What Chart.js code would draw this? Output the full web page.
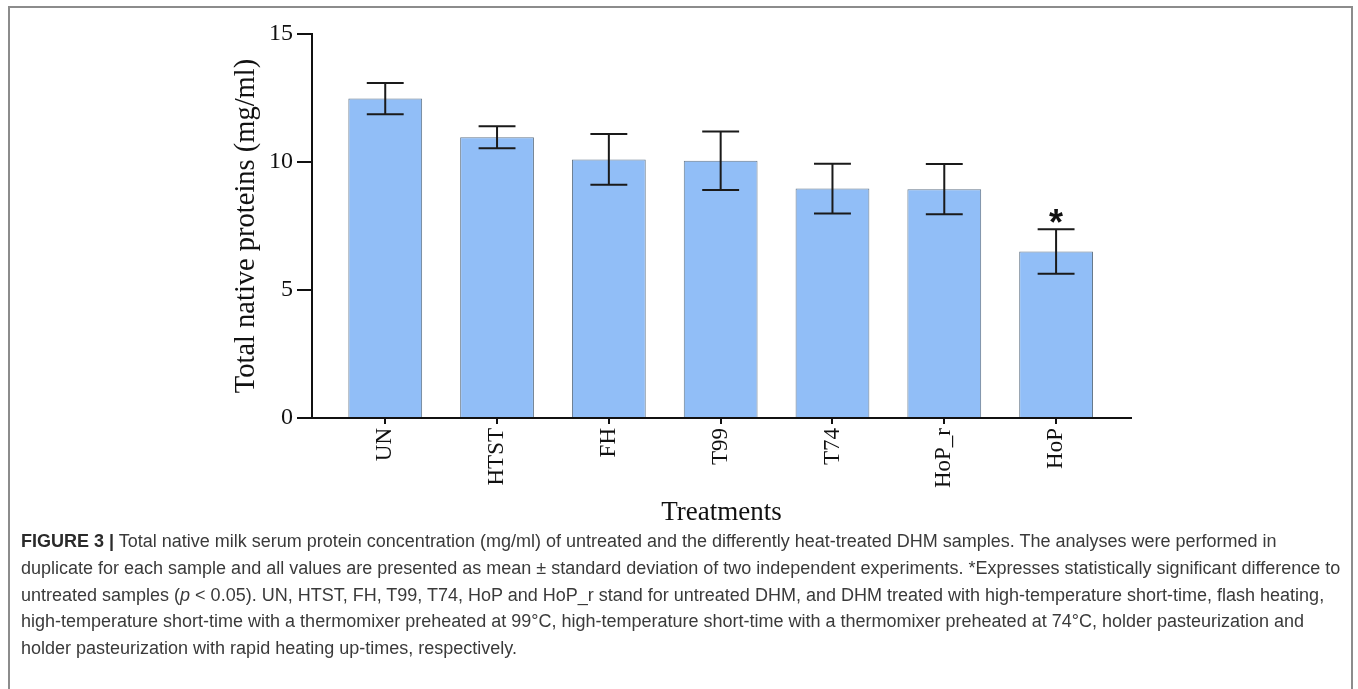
<!DOCTYPE html>
<html>
<head>
<meta charset="utf-8">
<script src="https://cdn.jsdelivr.net/npm/chart.js@4.4.1/dist/chart.umd.min.js"></script>
<style>
html,body{margin:0;padding:0;background:#fff;}
body{width:1358px;height:689px;position:relative;overflow:hidden;}
#frame{position:absolute;left:8px;top:6px;width:1345px;height:720px;border:2px solid #8c8c8c;box-sizing:border-box;}
#wrap{position:absolute;left:0;top:0;width:1358px;height:540px;}
#cap{position:absolute;left:21px;top:528px;font-family:"Liberation Sans",Arial,sans-serif;font-size:18px;line-height:26.8px;color:#3a3a3a;white-space:nowrap;}
#cap b{color:#2a2a2a;}
</style>
</head>
<body>
<div id="frame"></div>
<div id="wrap"><canvas id="c"></canvas></div>
<div id="cap">
<b>FIGURE 3 |</b> Total native milk serum protein concentration (mg/ml) of untreated and the differently heat-treated DHM samples. The analyses were performed in<br>
duplicate for each sample and all values are presented as mean ± standard deviation of two independent experiments. *Expresses statistically significant difference to<br>
untreated samples (<i>p</i> &lt; 0.05). UN, HTST, FH, T99, T74, HoP and HoP_r stand for untreated DHM, and DHM treated with high-temperature short-time, flash heating,<br>
high-temperature short-time with a thermomixer preheated at 99°C, high-temperature short-time with a thermomixer preheated at 74°C, holder pasteurization and<br>
holder pasteurization with rapid heating up-times, respectively.
</div>
<script>

// data
const treatments=["UN","HTST","FH","T99","T74","HoP_r","HoP"]
const means=[12.48,10.97,10.1,10.05,8.96,8.94,6.5]
const sds=[0.61,0.43,0.99,1.14,0.97,0.98,0.87]
const signif=["","","","","","","*"]
const yTicks=[0,5,10,15]

const serif='"Liberation Serif","Times New Roman",serif'

let points=treatments.map((t,i)=>({x:i,y:means[i]}))

/* ===== error bars + asterisk ===== */

const errorBars={
id:"errorBars",
afterDatasetsDraw(chart){
let ctx=chart.ctx
let xs=chart.scales.x
let ys=chart.scales.y
let meta=chart.getDatasetMeta(0)
ctx.save()
ctx.strokeStyle="#1a1a1a"
ctx.lineWidth=2
means.forEach((m,i)=>{
let x=xs.getPixelForValue(i)
let hi=ys.getPixelForValue(m+sds[i])
let lo=ys.getPixelForValue(m-sds[i])
let half=meta.data[i].width/4
ctx.beginPath()
ctx.moveTo(x,hi);ctx.lineTo(x,lo)
ctx.moveTo(x-half,hi);ctx.lineTo(x+half,hi)
ctx.moveTo(x-half,lo);ctx.lineTo(x+half,lo)
ctx.stroke()
if(signif[i]){
ctx.fillStyle="#111"
ctx.font='bold 36px "Liberation Sans",Arial,sans-serif'
ctx.textAlign="center"
ctx.textBaseline="alphabetic"
ctx.fillText(signif[i],x,hi+6)
}
})
ctx.restore()
}
}

new Chart(document.getElementById("c"),{
type:"bar",
data:{
datasets:[{
data:points,
backgroundColor:"#91bef7",
borderColor:"#66788a",
borderWidth:1,
borderSkipped:"bottom",
barPercentage:0.66,
categoryPercentage:1
}]
},
options:{
responsive:true,
maintainAspectRatio:false,
animation:false,
layout:{padding:{left:229,right:227,top:34,bottom:11}},
plugins:{legend:{display:false},tooltip:{enabled:false}},
scales:{
x:{
type:"linear",
offset:false,
min:-0.655,
max:6.67,
afterBuildTicks(s){s.ticks=treatments.map((t,i)=>({value:i}))},
afterFit(s){s.height=111},
grid:{display:true,offset:false,drawOnChartArea:false,tickLength:6,color:"#111",lineWidth:2},
border:{color:"#111",width:2},
ticks:{
autoSkip:false,
minRotation:90,
maxRotation:90,
padding:4,
color:"#111",
font:{family:serif,size:23},
callback:v=>treatments[v]
},
title:{display:true,text:"Treatments",color:"#111",padding:0,font:{family:serif,size:27}}
},
y:{
min:0,
max:15,
afterBuildTicks(s){s.ticks=yTicks.map(v=>({value:v}))},
afterFit(s){s.width=83},
grid:{display:true,drawOnChartArea:false,tickLength:15,color:"#111",lineWidth:2},
border:{color:"#111",width:2},
ticks:{padding:4,color:"#111",font:{family:serif,size:24}},
title:{display:true,text:"Total native proteins (mg/ml)",color:"#111",padding:0,font:{family:serif,size:28.5}}
}
}
},
plugins:[errorBars]
})

</script>
</body>
</html>
